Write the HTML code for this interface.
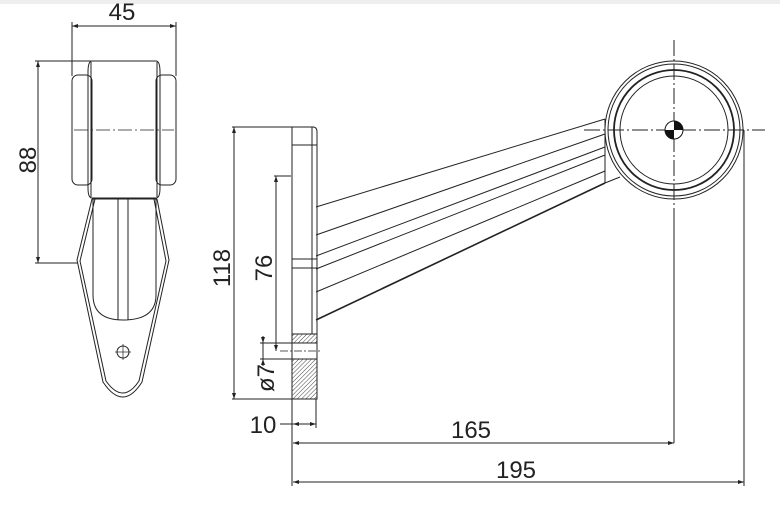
<!DOCTYPE html>
<html><head><style>
html,body{margin:0;padding:0;background:#fff;}
svg{display:block;}
text{font-family:"Liberation Sans",sans-serif;font-size:24px;fill:#222;}
</style></head><body>
<svg width="780" height="507" viewBox="0 0 780 507" xmlns="http://www.w3.org/2000/svg">
<defs>
<pattern id="h" width="3" height="3" patternUnits="userSpaceOnUse" patternTransform="rotate(45)"><line x1="0" y1="0" x2="0" y2="3" stroke="#444" stroke-width="1"/></pattern>
<marker id="a" markerWidth="6" markerHeight="4" refX="6" refY="2" orient="auto-start-reverse" markerUnits="userSpaceOnUse"><path d="M0,0 L6,2 L0,4z" fill="#222"/></marker>
</defs>
<rect x="0" y="0" width="780" height="4" fill="#eee"/>
<g stroke="#222" fill="none" stroke-width="1">
<line x1="72" y1="22" x2="72" y2="76"/><line x1="176" y1="22" x2="176" y2="76"/>
<line x1="72" y1="26" x2="176" y2="26" marker-start="url(#a)" marker-end="url(#a)"/>
<line x1="35" y1="61" x2="92" y2="61"/><line x1="35" y1="263" x2="78" y2="263"/>
<line x1="38" y1="61" x2="38" y2="263" marker-start="url(#a)" marker-end="url(#a)"/>
<rect x="72" y="75" width="20" height="110" rx="6"/>
<rect x="156" y="75" width="20" height="110" rx="6"/>
<path d="M92,61 H156 Q160,61 160,72 V188 Q160,198 156,198 H92 Q88,198 88,188 V72 Q88,61 92,61z"/>
<line x1="91" y1="62" x2="91" y2="197"/><line x1="157" y1="62" x2="157" y2="197"/>
<line x1="74" y1="130" x2="174" y2="130" stroke-dasharray="14,3,2,3" stroke-width="0.8"/>
<line x1="92" y1="199" x2="157" y2="199"/>
<path d="M92,199 L77,260 L103,382 Q123,412 142,382 L169,260 L157,199"/>
<path d="M95,199 L80,261 L106,381 Q123,405 139,381 L166,261 L154,199"/>
<path d="M93,199 V295 Q93,320 123,320 Q156,320 156,295 V199"/>
<line x1="118" y1="199" x2="118" y2="320"/><line x1="128" y1="199" x2="128" y2="320"/>
<circle cx="123" cy="352" r="6"/>
<line x1="115" y1="352" x2="131" y2="352" stroke-width="0.7"/><line x1="123" y1="344" x2="123" y2="360" stroke-width="0.7"/>
<line x1="232" y1="127" x2="292" y2="127"/><line x1="232" y1="399" x2="292" y2="399"/>
<line x1="234" y1="127" x2="234" y2="399" marker-start="url(#a)" marker-end="url(#a)"/>
<line x1="274" y1="176" x2="291" y2="176"/>
<line x1="276" y1="176" x2="276" y2="351" marker-start="url(#a)" marker-end="url(#a)"/>
<line x1="260" y1="343" x2="292" y2="343"/><line x1="260" y1="359" x2="292" y2="359"/>
<line x1="263" y1="336" x2="263" y2="343" marker-end="url(#a)"/><line x1="263" y1="366" x2="263" y2="359" marker-end="url(#a)"/>
<line x1="263" y1="343" x2="263" y2="359"/>
<path d="M292,127 H313 Q317,127 317,132 V399 H292 Z"/>
<line x1="312" y1="127" x2="312" y2="334"/>
<line x1="292" y1="145" x2="317" y2="145"/>
<line x1="292" y1="259" x2="317" y2="259"/><line x1="292" y1="268" x2="317" y2="268"/>
<rect x="292" y="334" width="25" height="9" fill="url(#h)"/>
<rect x="292" y="359" width="25" height="40" fill="url(#h)"/>
<line x1="280" y1="351" x2="320" y2="351" stroke-dasharray="8,2,2,2" stroke-width="0.8"/>
<line x1="292" y1="399" x2="292" y2="486"/>
<line x1="316" y1="399" x2="316" y2="428"/>
<line x1="280" y1="424" x2="293" y2="424"/>
<line x1="293" y1="424" x2="316" y2="424" marker-start="url(#a)" marker-end="url(#a)"/>
<line x1="293" y1="443" x2="674" y2="443" marker-start="url(#a)" marker-end="url(#a)"/>
<line x1="293" y1="482" x2="744" y2="482" marker-start="url(#a)" marker-end="url(#a)"/>
<line x1="316" y1="207" x2="605" y2="119"/>
<line x1="316" y1="235" x2="605" y2="134"/>
<line x1="316" y1="256" x2="605" y2="147"/>
<line x1="316" y1="269" x2="605" y2="155"/>
<line x1="316" y1="292" x2="605" y2="171"/>
<line x1="316" y1="320" x2="605" y2="183" stroke-width="1.6"/>
<line x1="605" y1="119" x2="605" y2="183"/>
<line x1="605" y1="183" x2="620" y2="177"/>
<circle cx="674" cy="130" r="69" fill="#fff"/>
<circle cx="674" cy="130" r="66"/>
<circle cx="674" cy="130" r="60" stroke-width="1.8"/>
<circle cx="674" cy="130" r="54"/>
<line x1="584" y1="130" x2="765" y2="130" stroke-dasharray="16,3,2,3"/>
<line x1="674" y1="40" x2="674" y2="210" stroke-dasharray="16,3,2,3"/>
<line x1="674" y1="210" x2="674" y2="443"/>
<line x1="744" y1="130" x2="744" y2="486"/>
</g>
<circle cx="674" cy="130" r="9" fill="#fff" stroke="#111"/>
<path d="M674,121 A9,9 0 0 1 683,130 L674,130z" fill="#111"/>
<path d="M674,139 A9,9 0 0 1 665,130 L674,130z" fill="#111"/>
<text x="122" y="20" text-anchor="middle">45</text>
<text transform="translate(36,160) rotate(-90)" text-anchor="middle">88</text>
<text transform="translate(230,268) rotate(-90)" text-anchor="middle">118</text>
<text transform="translate(272,268) rotate(-90)" text-anchor="middle">76</text>
<text transform="translate(274,378) rotate(-90)" text-anchor="middle">ø7</text>
<text x="263" y="433" text-anchor="middle">10</text>
<text x="471" y="438" text-anchor="middle">165</text>
<text x="516" y="478" text-anchor="middle">195</text>
</svg>
</body></html>
